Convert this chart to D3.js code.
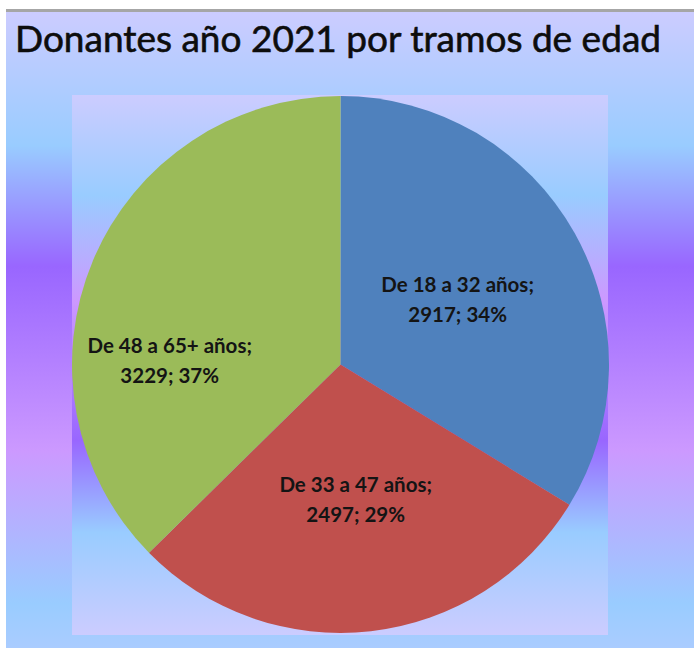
<!DOCTYPE html>
<meta charset="utf-8">
<style>
  body { margin: 0; background: #fff; }
  svg { display: block; }
  .title { font-family: Lato, "Open Sans", sans-serif; fill: #0d0d0d; stroke: #0d0d0d; stroke-width: 0.6px; }
  .lbl { font-family: Lato, "Open Sans", sans-serif; font-weight: bold; fill: #141414; }
</style>
<body></body>
<script src="https://d3js.org/d3.v7.min.js"></script>
<script>
// data
var categories = ["De 18 a 32 años", "De 33 a 47 años", "De 48 a 65+ años"];
var donors = [2917, 2497, 3229];
var percents = ["34%", "29%", "37%"];
var colors = ["#4f81bd", "#c0504d", "#9bbb59"];
var title = "Donantes año 2021 por tramos de edad";

// label nudges (Excel best-fit moved the big slice label)
var labelShift = [[0, 1], [0, 2], [-47, 48]];

var width = 694, height = 648;
var frame = {left: 6, top: 12};
var plot = {left: 72, top: 95, right: 608, bottom: 635};

var svg = d3.select("body").append("svg")
    .attr("width", width)
    .attr("height", height);

var defs = svg.append("defs");

function addGradient(id, stops) {
  var g = defs.append("linearGradient")
      .attr("id", id)
      .attr("x1", 0).attr("y1", 0).attr("x2", 0).attr("y2", 1);
  stops.forEach(function(s) {
    g.append("stop").attr("offset", s[0]).attr("stop-color", s[1]);
  });
}

addGradient("outerGrad", [[0, "#ccccff"], [0.21, "#99ccff"], [0.40, "#9966ff"],
                          [0.69, "#cc99ff"], [0.93, "#99ccff"], [1, "#aaccff"]]);
addGradient("innerGrad", [[0, "#ccccff"], [0.185, "#99ccff"], [0.38, "#cc99ff"],
                          [0.64, "#9966ff"], [0.81, "#99ccff"], [1, "#ccccff"]]);

// chart area background
svg.append("rect")
    .attr("x", frame.left).attr("y", frame.top)
    .attr("width", width - frame.left).attr("height", height - frame.top)
    .attr("fill", "url(#outerGrad)");

svg.append("line")
    .attr("x1", frame.left).attr("x2", width)
    .attr("y1", frame.top - 1.5).attr("y2", frame.top - 1.5)
    .attr("stroke", "#a6a6a6").attr("stroke-width", 3);

// plot area background
svg.append("rect")
    .attr("x", plot.left).attr("y", plot.top)
    .attr("width", plot.right - plot.left).attr("height", plot.bottom - plot.top)
    .attr("fill", "url(#innerGrad)");

svg.append("text")
    .attr("class", "title")
    .attr("x", 15).attr("y", 52)
    .attr("font-size", 37)
    .text(title);

var radius = (plot.bottom - plot.top) / 2 - 1.5;
var cx = (plot.left + plot.right) / 2 + 0.5,
    cy = (plot.top + plot.bottom) / 2 - 0.5;

var pie = d3.pie().sort(null).value(function(d) { return d; });
var arcs = pie(donors);

var arc = d3.arc().innerRadius(0).outerRadius(radius);
var labelArc = d3.arc().innerRadius(0).outerRadius(radius);

var gPie = svg.append("g")
    .attr("transform", "translate(" + cx + "," + cy + ")");

gPie.selectAll("path")
    .data(arcs)
    .enter().append("path")
    .attr("d", arc)
    .attr("fill", function(d, i) { return colors[i]; });

var labels = gPie.selectAll("text.lbl")
    .data(arcs)
    .enter().append("text")
    .attr("class", "lbl")
    .attr("font-size", 20.5)
    .attr("text-anchor", "middle")
    .attr("transform", function(d, i) {
      var c = labelArc.centroid(d);
      return "translate(" + (c[0] + labelShift[i][0]) + "," + (c[1] + labelShift[i][1]) + ")";
    });

labels.append("tspan")
    .attr("x", 0).attr("y", -8)
    .text(function(d, i) { return categories[i] + ";"; });

labels.append("tspan")
    .attr("x", 0).attr("y", 22)
    .text(function(d, i) { return donors[i] + "; " + percents[i]; });
</script>
